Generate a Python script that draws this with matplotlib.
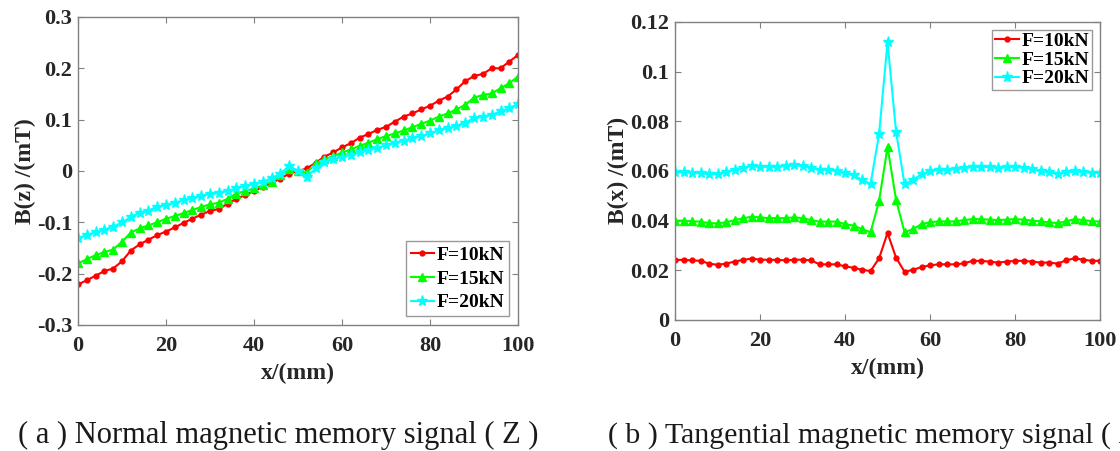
import numpy as np
import matplotlib
matplotlib.use("Agg")
import matplotlib.pyplot as plt

plt.rcParams['font.family'] = ['Liberation Serif', 'DejaVu Serif']
plt.rcParams['font.weight'] = 'bold'

x = np.arange(0, 101, 2)

# (a) normal component B(z)
bz_10 = [-0.221, -0.213, -0.204, -0.195, -0.19, -0.176, -0.155, -0.143, -0.134, -0.125,
         -0.118, -0.11, -0.101, -0.093, -0.085, -0.078, -0.074, -0.064, -0.054, -0.047,
         -0.039, -0.031, -0.023, -0.015, -0.005, 0.0, 0.005, 0.016, 0.028, 0.036,
         0.046, 0.054, 0.065, 0.072, 0.08, 0.086, 0.096, 0.106, 0.112, 0.12,
         0.127, 0.137, 0.145, 0.159, 0.175, 0.185, 0.189, 0.2, 0.213, 0.226, 0.226]
bz_15 = [-0.18, -0.172, -0.164, -0.158, -0.153, -0.138, -0.12, -0.112, -0.106, -0.1,
         -0.093, -0.088, -0.082, -0.076, -0.07, -0.065, -0.062, -0.054, -0.044, -0.039,
         -0.034, -0.028, -0.021, -0.008, 0.003, -0.001, -0.003, 0.015, 0.023, 0.029,
         0.036, 0.042, 0.049, 0.055, 0.062, 0.068, 0.073, 0.079, 0.085, 0.092,
         0.098, 0.106, 0.112, 0.12, 0.129, 0.143, 0.148, 0.151, 0.161, 0.171, 0.184]
bz_20 = [-0.131, -0.125, -0.119, -0.114, -0.109, -0.1, -0.09, -0.081, -0.077, -0.07,
         -0.066, -0.062, -0.057, -0.053, -0.049, -0.045, -0.042, -0.039, -0.034, -0.029,
         -0.026, -0.021, -0.014, -0.005, 0.01, 0.0, -0.011, 0.005, 0.018, 0.023,
         0.028, 0.031, 0.036, 0.041, 0.045, 0.05, 0.054, 0.059, 0.064, 0.068,
         0.073, 0.079, 0.083, 0.088, 0.094, 0.103, 0.106, 0.109, 0.116, 0.122, 0.131]
bz_10[-2] = 0.213
bz_10[-3] = 0.2

# (b) tangential component B(x)
bx_10 = [0.0242, 0.0242, 0.024, 0.0238, 0.0227, 0.0222, 0.0227, 0.0235, 0.0242, 0.0247,
         0.0243, 0.0242, 0.0242, 0.024, 0.0242, 0.0243, 0.024, 0.0224, 0.0224, 0.0224,
         0.0216, 0.021, 0.0202, 0.0197, 0.0248, 0.035, 0.0251, 0.0194, 0.0202, 0.0213,
         0.022, 0.0224, 0.0224, 0.0224, 0.0228, 0.0238, 0.0238, 0.0235, 0.0231, 0.0235,
         0.0238, 0.0238, 0.0235, 0.0231, 0.0231, 0.0227, 0.024, 0.0248, 0.0243, 0.0238, 0.0238]
bx_15 = [0.04, 0.04, 0.0397, 0.0396, 0.039, 0.0389, 0.0393, 0.0402, 0.0409, 0.0416,
         0.0413, 0.041, 0.041, 0.041, 0.0413, 0.041, 0.0402, 0.0396, 0.0396, 0.0396,
         0.0386, 0.038, 0.0366, 0.0353, 0.0478, 0.0697, 0.0484, 0.0353, 0.0366, 0.0386,
         0.0393, 0.0397, 0.0397, 0.0397, 0.0402, 0.0406, 0.0406, 0.0404, 0.0402, 0.0404,
         0.0406, 0.0404, 0.04, 0.0397, 0.0393, 0.039, 0.0397, 0.0406, 0.0402, 0.0398, 0.0396]
bx_20 = [0.0594, 0.0596, 0.0593, 0.059, 0.0587, 0.0587, 0.0596, 0.0604, 0.0612, 0.062,
         0.0617, 0.0617, 0.0617, 0.062, 0.0622, 0.062, 0.0612, 0.0605, 0.0605, 0.06,
         0.0591, 0.0582, 0.0564, 0.0547, 0.0747, 0.1119, 0.0758, 0.0547, 0.0564, 0.0587,
         0.0598, 0.0605, 0.0605, 0.0607, 0.0612, 0.0617, 0.0616, 0.0616, 0.0613, 0.0615,
         0.0616, 0.0612, 0.0607, 0.06, 0.0594, 0.0589, 0.0594, 0.0598, 0.0596, 0.0592, 0.0592]

labels = ["F=10kN", "F=15kN", "F=20kN"]
colors = ["#ff0000", "#00ff00", "#00ffff"]
markers = [".", "^", "*"]
msizes = [7, 6, 8]

fig = plt.figure(figsize=(11.2, 4.51), dpi=100)
ax1 = fig.add_axes([0.0696, 0.2794, 0.393, 0.683])
ax2 = fig.add_axes([0.6027, 0.2905, 0.3795, 0.661])


def style(ax):
    for s in ax.spines.values():
        s.set_color("#808080")
        s.set_linewidth(1.0)
    ax.tick_params(direction="in", top=True, right=True, length=4, color="#808080",
                   labelsize=16)
    ax.tick_params(axis="x", pad=8)
    ax.tick_params(axis="y", pad=4)
    for t in ax.get_xticklabels() + ax.get_yticklabels():
        t.set_fontweight("bold")
        t.set_color("#262626")


for ys, lab, c, m, ms in zip([bz_10, bz_15, bz_20], labels, colors, markers, msizes):
    ax1.plot(x, ys, color=c, marker=m, markersize=ms, linewidth=1.5, label=lab)
ax1.set_xlim(0, 100)
ax1.set_ylim(-0.3, 0.3)
ax1.set_xticks([0, 20, 40, 60, 80, 100])
ax1.set_yticks([-0.3, -0.2, -0.1, 0, 0.1, 0.2, 0.3])
ax1.set_yticklabels(["-0.3", "-0.2", "-0.1", "0", "0.1", "0.2", "0.3"])
ax1.set_xlabel("x/(mm)", fontsize=17, fontweight="bold", color="#262626", labelpad=5)
ax1.set_ylabel("B(z) /(mT)", fontsize=17, fontweight="bold", color="#262626", labelpad=1)
style(ax1)
leg1 = ax1.legend(loc="lower right", handlelength=1.2, handletextpad=0.15,
                  borderpad=0.25, labelspacing=0.32, fancybox=False, borderaxespad=0.45,
                  prop={"weight": "bold", "size": 14})
leg1.get_frame().set_edgecolor("#808080")
leg1.get_frame().set_linewidth(1.0)

for ys, lab, c, m, ms in zip([bx_10, bx_15, bx_20], labels, colors, markers, msizes):
    ax2.plot(x, ys, color=c, marker=m, markersize=ms, linewidth=1.5, label=lab)
ax2.set_xlim(0, 100)
ax2.set_ylim(0, 0.12)
ax2.set_xticks([0, 20, 40, 60, 80, 100])
ax2.set_yticks([0, 0.02, 0.04, 0.06, 0.08, 0.1, 0.12])
ax2.set_yticklabels(["0", "0.02", "0.04", "0.06", "0.08", "0.1", "0.12"])
ax2.set_xlabel("x/(mm)", fontsize=17, fontweight="bold", color="#262626", labelpad=5)
ax2.set_ylabel("B(x) /(mT)", fontsize=17, fontweight="bold", color="#262626", labelpad=1)
style(ax2)
leg2 = ax2.legend(loc="upper right", handlelength=1.2, handletextpad=0.15,
                  borderpad=0.15, labelspacing=0.05, fancybox=False, borderaxespad=0.4,
                  prop={"weight": "bold", "size": 14})
leg2.get_frame().set_edgecolor("#808080")
leg2.get_frame().set_linewidth(1.0)

fig.text(0.016, 0.035, "( a ) Normal magnetic memory signal ( Z )", fontsize=22,
         fontweight="normal", va="center", ha="left", color="#1a1a1a")
fig.text(0.543, 0.035, "( b ) Tangential magnetic memory signal ( X )", fontsize=21.5,
         fontweight="normal", va="center", ha="left", color="#1a1a1a")

fig.savefig("out.png", dpi=100)
